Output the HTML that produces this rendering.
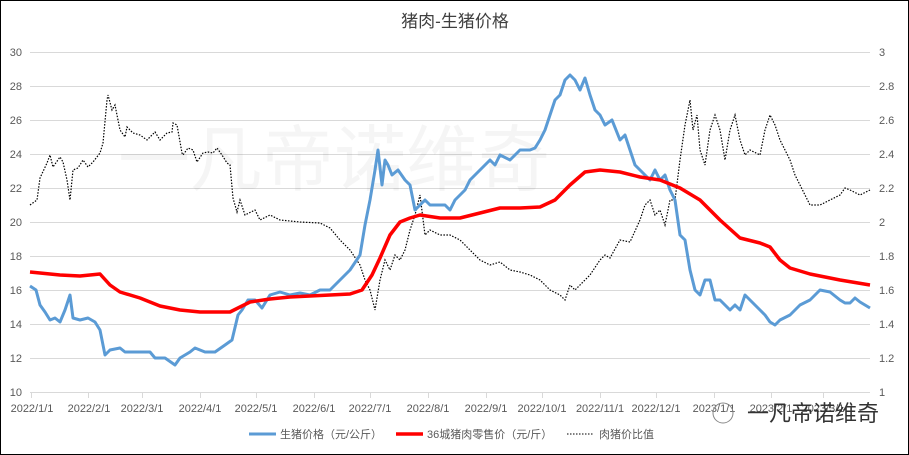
<!DOCTYPE html>
<html><head><meta charset="utf-8"><style>
body{margin:0;background:#fff}
svg{display:block;font-family:"Liberation Sans","Noto Sans CJK SC",sans-serif}
</style></head><body>
<svg width="909" height="455" viewBox="0 0 909 455">
<rect x="0.5" y="0.5" width="908" height="454" fill="#fff" stroke="#000"/>
<text x="455" y="27" font-size="17" text-anchor="middle" fill="#404040">猪肉-生猪价格</text>
<g stroke="#d9d9d9" stroke-width="1">
<line x1="30" x2="870" y1="52.5" y2="52.5"/><line x1="30" x2="870" y1="86.5" y2="86.5"/><line x1="30" x2="870" y1="120.5" y2="120.5"/><line x1="30" x2="870" y1="154.5" y2="154.5"/><line x1="30" x2="870" y1="188.5" y2="188.5"/><line x1="30" x2="870" y1="222.5" y2="222.5"/><line x1="30" x2="870" y1="256.5" y2="256.5"/><line x1="30" x2="870" y1="290.5" y2="290.5"/><line x1="30" x2="870" y1="324.5" y2="324.5"/><line x1="30" x2="870" y1="358.5" y2="358.5"/><line x1="30" x2="870" y1="392.5" y2="392.5"/>
</g>
<g stroke="#d9d9d9"><line x1="31.5" x2="31.5" y1="392" y2="398"/><line x1="88.5" x2="88.5" y1="392" y2="398"/><line x1="142.5" x2="142.5" y1="392" y2="398"/><line x1="200.5" x2="200.5" y1="392" y2="398"/><line x1="256.5" x2="256.5" y1="392" y2="398"/><line x1="314.5" x2="314.5" y1="392" y2="398"/><line x1="370.5" x2="370.5" y1="392" y2="398"/><line x1="428.5" x2="428.5" y1="392" y2="398"/><line x1="486.5" x2="486.5" y1="392" y2="398"/><line x1="542.5" x2="542.5" y1="392" y2="398"/><line x1="600.5" x2="600.5" y1="392" y2="398"/><line x1="656.5" x2="656.5" y1="392" y2="398"/><line x1="714.5" x2="714.5" y1="392" y2="398"/><line x1="771.5" x2="771.5" y1="392" y2="398"/><line x1="823.5" x2="823.5" y1="392" y2="398"/></g>
<g font-size="11" fill="#595959" text-anchor="end">
<text x="22" y="56">30</text><text x="22" y="90">28</text><text x="22" y="124">26</text><text x="22" y="158">24</text><text x="22" y="192">22</text><text x="22" y="226">20</text><text x="22" y="260">18</text><text x="22" y="294">16</text><text x="22" y="328">14</text><text x="22" y="362">12</text><text x="22" y="396">10</text>
</g>
<g font-size="11" fill="#595959" text-anchor="start">
<text x="879" y="56">3</text><text x="879" y="90">2.8</text><text x="879" y="124">2.6</text><text x="879" y="158">2.4</text><text x="879" y="192">2.2</text><text x="879" y="226">2</text><text x="879" y="260">1.8</text><text x="879" y="294">1.6</text><text x="879" y="328">1.4</text><text x="879" y="362">1.2</text><text x="879" y="396">1</text>
</g>
<g font-size="11" fill="#595959" text-anchor="middle">
<text x="32" y="412">2022/1/1</text><text x="89" y="412">2022/2/1</text><text x="142" y="412">2022/3/1</text><text x="200" y="412">2022/4/1</text><text x="256" y="412">2022/5/1</text><text x="314" y="412">2022/6/1</text><text x="370" y="412">2022/7/1</text><text x="428" y="412">2022/8/1</text><text x="486" y="412">2022/9/1</text><text x="542" y="412">2022/10/1</text><text x="600" y="412">2022/11/1</text><text x="656" y="412">2022/12/1</text><text x="714" y="412">2023/1/1</text><text x="771" y="412">2023/2/1</text><text x="823" y="412">2023/3/1</text>
</g>
<text x="118" y="185" font-size="72" fill="#000" fill-opacity="0.04">一凡帝诺维奇</text>
<polyline fill="none" stroke="#000" stroke-width="1.2" stroke-dasharray="1.5,1.5" points="30,205 37,200 40,178 47,163 50,155 53,167 60,157 63,162 67,180 70,200 73,170 78,168 83,160 88,167 93,162 100,153 103,143 107,100 108,95 112,110 115,105 120,130 125,137 127,127 133,133 140,135 147,140 155,132 160,140 167,133 172,132 173,123 177,125 182,153 183,155 188,148 193,150 197,162 203,153 208,152 213,153 217,148 222,155 227,163 230,165 233,198 237,212 240,200 245,215 255,210 260,220 270,215 280,220 300,222 320,223 330,228 340,240 350,250 360,265 365,280 370,290 375,310 380,280 385,260 390,270 395,255 400,260 405,250 410,230 415,215 420,195 425,235 430,230 440,235 450,235 460,240 470,250 480,260 490,265 500,262 510,270 520,272 530,275 540,280 550,290 560,295 565,300 570,285 575,290 580,285 590,275 600,260 605,255 610,258 620,240 630,242 640,220 645,205 650,200 655,215 660,210 665,225 670,200 675,200 680,160 685,125 690,100 693,130 697,115 700,150 705,165 710,130 715,115 720,130 725,160 730,130 735,115 740,140 745,155 750,150 760,155 765,130 770,115 775,125 780,140 785,150 790,160 795,175 800,185 805,195 810,205 820,205 830,200 840,195 845,188 850,190 860,195 870,190"/>
<polyline fill="none" stroke="#5b9bd5" stroke-width="3" stroke-linejoin="round" points="30,286 36,290 40,305 45,312 50,320 55,318 60,322 65,310 70,295 73,318 80,320 88,318 95,322 100,330 105,355 110,350 120,348 125,352 150,352 155,358 165,358 175,365 180,358 190,352 195,348 205,352 215,352 225,345 232,340 238,315 242,310 248,300 255,300 262,308 270,295 280,292 290,295 300,293 310,295 320,290 330,290 340,280 350,270 360,255 365,225 370,200 375,170 378,150 382,185 385,160 388,165 392,175 398,170 405,180 410,185 415,210 420,205 425,200 430,205 435,205 445,205 450,210 455,200 465,190 470,180 475,175 480,170 485,165 490,160 495,165 500,155 510,160 520,150 530,150 535,148 540,140 545,130 550,115 555,100 560,95 565,80 570,75 575,80 580,90 585,78 590,95 595,110 600,115 605,125 612,120 620,140 625,135 630,150 635,165 640,170 645,175 650,180 655,170 660,180 665,175 670,190 675,200 680,235 685,240 690,270 695,290 700,295 705,280 710,280 715,300 720,300 725,305 730,310 735,305 740,310 745,295 750,300 755,305 760,310 765,315 770,322 775,325 780,320 790,315 800,305 810,300 820,290 830,292 840,300 845,303 850,303 855,298 860,302 865,305 870,308"/>
<polyline fill="none" stroke="#ff0000" stroke-width="3.5" stroke-linejoin="round" points="30,272 60,275 80,276 100,274 110,285 120,292 140,298 160,306 180,310 200,312 230,312 250,302 270,299 290,297 310,296 330,295 350,294 362,290 372,275 380,258 390,235 400,222 410,218 420,215 440,218 460,218 480,213 500,208 520,208 540,207 555,200 570,185 585,172 600,170 620,172 640,177 660,180 680,188 700,200 720,220 740,238 760,243 770,247 780,260 790,268 810,274 840,280 870,285"/>
<g font-size="11" fill="#595959">
<line x1="249" x2="276" y1="434" y2="434" stroke="#5b9bd5" stroke-width="3"/><text x="280" y="438">生猪价格（元/公斤）</text>
<line x1="396" x2="423" y1="434" y2="434" stroke="#ff0000" stroke-width="3.5"/><text x="427" y="438">36城猪肉零售价（元/斤）</text>
<line x1="567" x2="594" y1="434" y2="434" stroke="#000" stroke-dasharray="1.5,1.5"/><text x="599" y="438">肉猪价比值</text>
</g>
<circle cx="723" cy="413" r="10" fill="none" stroke="#888"/>
<text x="747" y="421" font-size="22" fill="#333">一凡帝诺维奇</text>
</svg>
</body></html>
